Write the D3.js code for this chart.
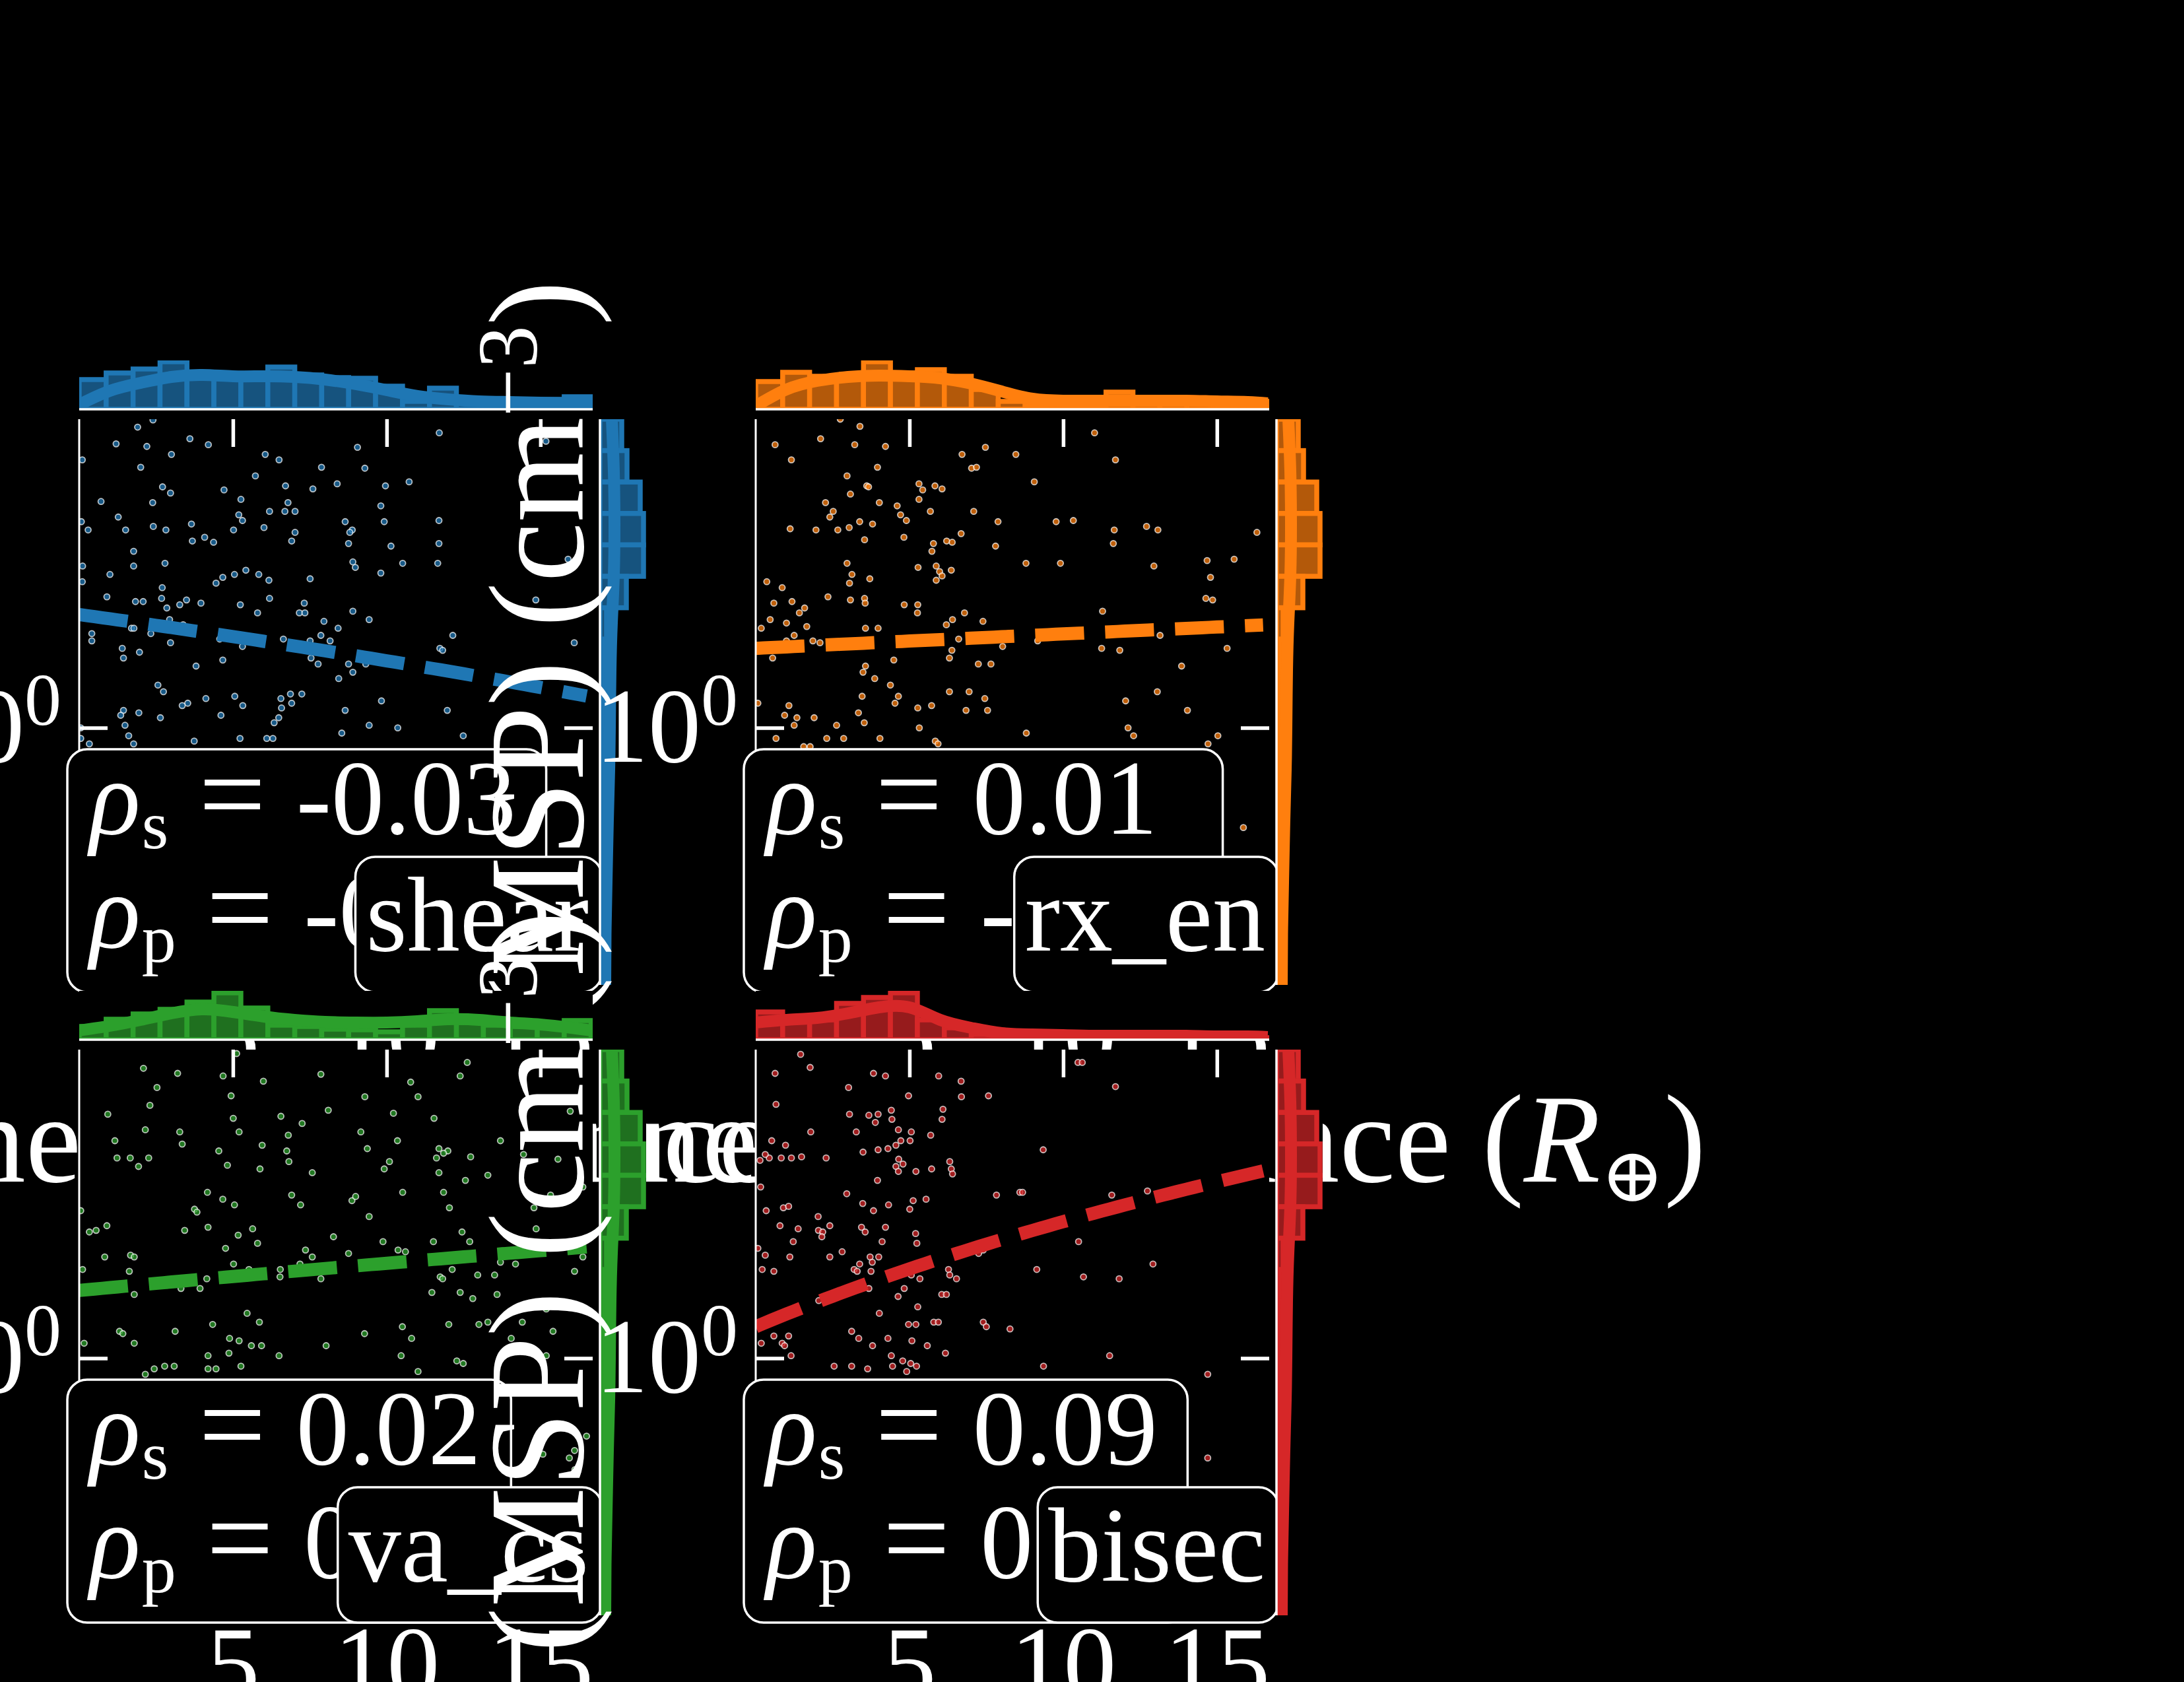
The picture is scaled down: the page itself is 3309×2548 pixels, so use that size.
<!DOCTYPE html>
<html>
<head>
<meta charset="utf-8">
<script src="https://cdnjs.cloudflare.com/ajax/libs/d3/7.8.5/d3.min.js"></script>
<style>
  body { margin: 0; background: #000; }
</style>
</head>
<body>
<div id="chart"></div>
<script>
// panel names, colours and the correlation labels
var panelNames = ["shear", "rx_en", "va_cs", "bisec"];
var panelColors = ["#1f77b4", "#ff7f0e", "#2ca02c", "#d62728"];
var rhoS = ["-0.03", "0.01", "0.02", "0.09"];
var rhoP = ["-0.05", "-0.01", "0.04", "0.08"];

// dashed fit lines: y = a + b * x
var fitA = [1.55, 1.36, 1.30, 1.13];
var fitB = [-0.0254, 0.0078, 0.0144, 0.0566];

var xTicks = [5, 10, 15];
var yTicks = [1];

// scatter points [distance, density]
var shearPts = [[2.4,3.29],[1.9,3.2],[1.2,3.0],[2.2,2.97],[3.0,2.88],[0.1,2.82],[3.6,3.06],[4.2,2.99],[2.0,2.74],[6.05,2.88],[6.5,2.82],[9.05,2.96],[7.88,2.74],[9.29,2.73],[11.71,3.13],[15.18,3.03],[5.73,2.65],[2.71,2.54],[2.97,2.48],[4.71,2.51],[6.71,2.55],[7.6,2.52],[8.39,2.57],[9.96,2.55],[10.73,2.59],[0.71,2.4],[2.39,2.39],[5.26,2.42],[6.79,2.39],[9.81,2.36],[1.27,2.26],[5.19,2.28],[5.31,2.23],[6.19,2.31],[6.69,2.31],[7.02,2.31],[0.07,2.22],[0.29,2.15],[1.51,2.15],[2.41,2.18],[2.82,2.15],[3.65,2.2],[3.68,2.06],[4.08,2.09],[4.37,2.05],[5.02,2.15],[6.01,2.17],[7.02,2.13],[6.91,2.06],[8.65,2.22],[8.88,2.15],[8.8,2.13],[8.76,2.04],[9.92,2.22],[10.14,2.02],[11.7,2.23],[11.7,2.04],[1.77,1.98],[0.11,1.87],[0.1,1.76],[1.77,1.87],[1.0,1.81],[2.79,1.89],[8.9,1.9],[8.98,1.86],[9.81,1.82],[10.52,1.89],[11.66,1.89],[15.9,1.92],[2.7,1.72],[4.45,1.75],[4.67,1.79],[5.05,1.81],[5.42,1.84],[5.84,1.81],[6.17,1.77],[7.51,1.78],[0.9,1.66],[1.83,1.63],[2.08,1.63],[2.68,1.65],[3.49,1.64],[3.27,1.61],[2.85,1.59],[3.96,1.62],[5.24,1.61],[6.19,1.65],[5.8,1.56],[7.32,1.62],[7.16,1.56],[7.34,1.56],[8.9,1.57],[14.85,1.64],[2.94,1.52],[7.96,1.51],[9.43,1.52],[8.42,1.47],[1.7,1.47],[1.78,1.47],[3.38,1.49],[2.33,1.44],[0.41,1.44],[0.41,1.4],[2.97,1.39],[4.57,1.41],[5.31,1.37],[6.64,1.41],[7.86,1.43],[8.16,1.4],[7.51,1.4],[12.15,1.43],[16.1,1.39],[1.4,1.36],[1.96,1.34],[1.44,1.31],[4.67,1.3],[3.8,1.27],[7.54,1.31],[7.77,1.28],[8.76,1.28],[8.9,1.24],[9.32,1.28],[8.44,1.21],[11.73,1.36],[11.82,1.35],[2.56,1.18],[2.74,1.15],[4.12,1.12],[5.06,1.13],[6.56,1.12],[6.87,1.14],[7.24,1.14],[6.91,1.1],[5.32,1.09],[3.53,1.1],[3.35,1.09],[9.83,1.11],[1.44,1.07],[1.35,1.05],[1.94,1.06],[2.64,1.04],[4.61,1.05],[6.58,1.08],[6.49,1.04],[6.34,1.02],[8.65,1.07],[11.97,1.07],[1.49,1.01],[1.61,0.97],[1.77,0.94],[3.74,0.95],[5.23,0.96],[6.1,0.96],[6.3,0.96],[8.54,0.98],[9.43,1.01],[10.36,1.0],[12.49,0.97],[0.05,1.0],[0.33,0.94],[0.05,0.96]];

var rxEnPts = [[2.75,3.3],[3.39,3.21],[0.63,2.99],[2.11,3.06],[3.22,2.99],[4.22,2.97],[1.16,2.82],[3.96,2.74],[6.71,2.88],[7.47,2.96],[8.46,2.88],[7.02,2.73],[7.18,2.74],[11.02,3.13],[11.7,2.82],[9.06,2.59],[2.97,2.65],[3.61,2.55],[3.67,2.54],[5.31,2.57],[5.43,2.51],[5.83,2.55],[6.06,2.52],[3.08,2.47],[2.27,2.39],[2.52,2.31],[2.41,2.26],[4.02,2.39],[4.6,2.36],[4.71,2.28],[4.9,2.23],[5.31,2.42],[5.68,2.31],[7.09,2.31],[1.12,2.16],[1.96,2.15],[2.67,2.15],[3.04,2.17],[3.38,2.22],[3.8,2.2],[3.54,2.07],[4.82,2.09],[6.68,2.12],[7.88,2.22],[7.8,2.02],[5.78,2.04],[6.21,2.06],[6.39,2.05],[5.73,1.98],[9.77,2.22],[10.33,2.23],[11.66,2.15],[11.63,2.04],[12.71,2.18],[13.08,2.15],[16.3,2.13],[2.97,1.89],[3.13,1.81],[3.05,1.75],[3.71,1.78],[5.28,1.86],[5.87,1.87],[5.98,1.83],[6.06,1.8],[5.87,1.77],[6.36,1.84],[8.79,1.89],[9.91,1.89],[12.95,1.87],[14.68,1.91],[15.56,1.92],[14.79,1.79],[0.36,1.76],[0.86,1.72],[0.59,1.62],[1.18,1.63],[1.59,1.59],[1.42,1.56],[2.35,1.66],[3.08,1.64],[3.54,1.65],[3.56,1.62],[4.83,1.61],[5.27,1.61],[5.26,1.56],[6.79,1.56],[7.39,1.51],[6.4,1.52],[6.2,1.49],[0.47,1.52],[1.0,1.5],[0.18,1.47],[1.66,1.48],[1.25,1.43],[3.57,1.47],[3.98,1.47],[6.6,1.41],[6.94,1.43],[1.86,1.4],[2.09,1.39],[1.0,1.4],[11.28,1.57],[14.64,1.65],[14.86,1.64],[9.17,1.4],[8.03,1.37],[11.25,1.36],[11.84,1.35],[13.15,1.43],[15.33,1.36],[0.55,1.31],[4.49,1.3],[6.3,1.31],[6.38,1.35],[3.57,1.27],[3.49,1.24],[7.24,1.28],[7.65,1.28],[3.87,1.21],[4.38,1.18],[13.85,1.27],[3.46,1.13],[4.64,1.13],[4.53,1.1],[6.3,1.15],[6.94,1.15],[7.45,1.12],[13.06,1.15],[12.03,1.11],[0.07,1.1],[1.08,1.09],[0.94,1.05],[1.34,1.04],[1.9,1.04],[2.63,1.01],[3.34,1.06],[3.53,1.02],[5.27,1.08],[5.72,1.09],[6.84,1.07],[7.54,1.07],[14.04,1.07],[1.25,1.01],[5.32,1.0],[8.8,0.98],[12.11,1.0],[12.29,0.97],[0.66,0.96],[2.31,0.96],[2.86,0.96],[4.04,0.96],[5.84,0.95],[5.93,0.94],[14.71,0.94],[15.03,0.97],[1.56,0.93],[1.77,0.93],[15.86,0.68]];

var vaCsPts = [[2.09,3.07],[3.2,3.01],[2.53,2.85],[2.3,2.66],[0.93,2.57],[2.15,2.42],[1.16,2.32],[1.23,2.17],[1.66,2.17],[1.93,2.1],[2.26,2.17],[3.27,2.4],[3.35,2.29],[4.68,2.98],[4.94,2.76],[5.99,2.92],[5.12,3.25],[7.86,3.0],[5.01,2.53],[5.2,2.4],[6.56,2.55],[7.25,2.48],[6.8,2.37],[8.1,2.61],[9.29,2.75],[10.78,2.91],[11.02,2.75],[10.22,2.58],[9.16,2.4],[9.37,2.25],[10.35,2.32],[11.54,2.53],[12.39,2.98],[12.62,3.14],[13.7,2.32],[12.73,2.18],[11.7,2.25],[11.99,2.23],[11.85,2.21],[11.62,2.17],[10.09,2.14],[9.92,2.08],[4.54,2.23],[4.82,2.11],[5.88,2.08],[5.95,2.28],[6.75,2.23],[6.82,2.14],[7.58,2.05],[11.7,2.05],[12.56,1.99],[13.29,2.03],[14.45,2.2],[15.57,2.16],[15.97,2.6],[16.38,1.94],[4.17,1.9],[4.67,1.85],[5.05,1.81],[6.91,1.88],[7.2,1.81],[8.87,1.84],[8.99,1.87],[10.52,1.9],[11.85,1.9],[12.04,1.79],[15.33,1.88],[0.05,1.77],[0.33,1.63],[0.55,1.64],[0.9,1.67],[3.43,1.64],[3.75,1.78],[3.83,1.76],[4.19,1.66],[4.76,1.53],[5.17,1.61],[5.64,1.65],[5.8,1.56],[7.36,1.52],[7.58,1.48],[8.27,1.6],[8.76,1.5],[9.43,1.73],[9.88,1.57],[10.37,1.52],[10.61,1.51],[11.52,1.57],[12.45,1.63],[12.7,1.57],[14.86,1.65],[14.79,1.79],[0.83,1.48],[0.11,1.41],[1.63,1.4],[1.67,1.49],[1.79,1.48],[1.79,1.28],[3.31,1.31],[3.93,1.31],[4.15,1.36],[5.02,1.44],[5.52,1.41],[6.54,1.41],[6.53,1.37],[7.18,1.44],[7.86,1.36],[11.77,1.46],[11.74,1.37],[11.82,1.36],[12.13,1.41],[12.96,1.38],[13.51,1.38],[13.7,1.45],[14.19,1.44],[16.11,1.4],[16.38,1.48],[11.47,1.29],[12.39,1.29],[12.8,1.26],[13.59,1.28],[15.19,1.21],[5.46,1.19],[5.86,1.15],[4.34,1.14],[1.31,1.11],[1.42,1.1],[0.16,1.06],[1.79,1.06],[3.12,1.11],[4.89,1.08],[5.2,1.07],[5.6,1.05],[5.93,1.05],[4.19,1.01],[4.87,1.02],[6.5,1.01],[8.03,1.05],[9.28,1.1],[10.51,1.13],[10.81,1.08],[12.02,1.14],[13.0,1.14],[13.29,1.15],[14.05,1.08],[15.41,1.11],[14.41,1.15],[10.47,1.01],[12.28,0.99],[12.49,0.98],[15.19,1.01],[2.44,0.96],[2.78,0.97],[3.09,0.97],[4.19,0.96],[4.45,0.96],[5.26,0.97],[11.02,0.95],[2.15,0.94],[16.5,0.74],[15.08,0.69],[15.94,0.68],[16.12,0.65],[16.11,0.7]];

var bisecPts = [[1.46,3.24],[1.77,3.08],[0.63,3.01],[0.66,2.67],[3.83,3.01],[4.22,2.98],[3.02,2.85],[4.97,2.76],[5.95,2.98],[6.68,2.92],[6.69,2.75],[7.57,2.76],[11.7,2.86],[10.48,3.14],[10.62,3.14],[3.05,2.57],[3.68,2.56],[3.98,2.57],[3.89,2.49],[4.41,2.61],[4.43,2.52],[6.09,2.62],[6.06,2.52],[1.79,2.4],[3.27,2.4],[4.64,2.42],[5.06,2.4],[5.02,2.32],[4.72,2.32],[5.69,2.37],[0.52,2.32],[0.97,2.28],[0.83,2.17],[1.16,2.17],[1.49,2.18],[0.44,2.17],[0.31,2.2],[0.14,2.15],[2.29,2.17],[3.49,2.22],[3.98,2.24],[4.3,2.25],[4.56,2.28],[4.65,2.16],[4.56,2.1],[4.79,2.12],[4.64,2.06],[5.21,2.06],[5.72,2.08],[6.31,2.14],[6.36,2.08],[6.4,2.04],[9.35,2.24],[0.16,1.94],[3.96,1.99],[2.96,1.89],[3.48,1.82],[3.83,1.77],[4.32,1.81],[5.12,1.84],[5.01,1.78],[5.54,1.85],[7.83,1.88],[8.59,1.9],[8.68,1.9],[12.74,1.91],[11.58,1.88],[0.34,1.77],[0.9,1.79],[1.07,1.8],[0.79,1.67],[1.38,1.65],[2.03,1.73],[2.04,1.64],[2.18,1.63],[2.41,1.67],[2.15,1.6],[3.44,1.66],[3.56,1.63],[4.22,1.66],[4.11,1.57],[5.2,1.62],[5.24,1.56],[8.7,1.63],[10.5,1.57],[7.4,1.52],[7.25,1.5],[7.31,1.53],[1.22,1.57],[0.07,1.53],[0.31,1.49],[1.11,1.48],[2.41,1.48],[2.81,1.51],[3.38,1.44],[3.72,1.48],[4.0,1.48],[3.79,1.45],[3.2,1.41],[3.3,1.4],[3.75,1.4],[0.21,1.41],[0.59,1.4],[5.34,1.36],[5.06,1.38],[5.57,1.44],[6.27,1.41],[6.31,1.38],[6.53,1.36],[9.14,1.41],[10.66,1.37],[11.82,1.36],[12.92,1.44],[3.68,1.31],[4.83,1.31],[4.63,1.27],[5.27,1.22],[6.05,1.28],[6.2,1.28],[2.05,1.25],[4.02,1.19],[4.97,1.14],[5.21,1.14],[5.79,1.15],[5.94,1.15],[7.4,1.15],[7.5,1.13],[8.27,1.12],[0.18,1.06],[0.59,1.09],[0.86,1.06],[0.94,1.05],[1.07,1.09],[1.15,1.01],[3.35,1.08],[4.3,1.08],[3.12,1.11],[3.8,1.05],[5.08,1.07],[5.58,1.05],[6.17,1.02],[4.41,1.01],[4.78,0.99],[5.04,0.98],[5.23,0.97],[2.55,0.97],[3.12,0.97],[3.64,0.96],[4.45,0.97],[4.91,0.95],[9.36,0.97],[11.51,1.01],[14.7,0.94],[14.7,0.68]];

// top marginal histograms (19 bins over the distance range) and kde samples
var topBinCount = 19;
var topHistMax = 16.65;
var shearTopHist = [45,55,61,72,52,50,50,64,52,48,47,35,12,32,15,15,15,15,19];
var rxEnTopHist  = [42,56,50,50,72,55,60,50,30,12,6,5,5,26,12,12,12,12,12];
var vaCsTopHist  = [20,31,39,46,57,71,48,22,20,16,15,12,22,44,26,22,20,20,29];
var bisecTopHist = [42,28,30,55,64,71,30,18,8,5,4,4,3,3,3,3,3,3,3];

var kdeX = [0,1,2,3,4,5,6,7,8,9,10,11,12,13,14,15,16,16.65];
var shearTopKde = [7,28,40,49,52,50,50,49,45,38,29,20,15,12,11,10,9,9];
var rxEnTopKde  = [5,30,43,49,51,50,47,39,27,16,13,13,13,13,13,12,11,9];
var vaCsTopKde  = [14,21,30,40,46,42,35,30,27,26,26,28,31,30,26,23,18,14];
var bisecTopKde = [26,30,33,40,49,49,30,18,10,8,7,6,6,6,6,5,5,4];

// right marginal (same density for every panel), log-spaced bins
var rightHist = [33,41,61,66,66,40,10,6,5,5,5,4,4,4,4,3,3,3];
var rightKdeY = [3.3,2.7,2.2,1.8,1.5,1.25,1.0,0.85,0.7,0.55,0.45,0.37];
var rightKdeV = [18,21,22,21,18,16,15,14,12,10,8.5,8];

var W = 3309, H = 2548;
var axW = 778, axH = 857;
var histH = 74, histW = 70;
var origins = [[120, 635], [1145, 635], [120, 1590], [1145, 1590]];
var serif = "'Liberation Serif', 'DejaVu Serif', serif";

var panels = [
    {pts: shearPts, top: shearTopHist, kde: shearTopKde},
    {pts: rxEnPts,  top: rxEnTopHist,  kde: rxEnTopKde},
    {pts: vaCsPts,  top: vaCsTopHist,  kde: vaCsTopKde},
    {pts: bisecPts, top: bisecTopHist, kde: bisecTopKde}
];

var svg = d3.select("#chart")
    .append("svg")
    .attr("width", W)
    .attr("height", H);
svg.append("rect").attr("width", W).attr("height", H).attr("fill", "#000");
var defs = svg.append("defs");

var x = d3.scaleLinear().domain([0, 16.7]).range([0, axW]);
var y = d3.scaleLog().domain([0.37, 3.3]).range([axH, 0]);
var hy = d3.scaleLinear().domain([0, histH]).range([histH, 0]);
var hx = d3.scaleLinear().domain([0, histW]).range([0, histW]);

function styleAxis(sel)
{
    sel.attr("color", "#fff")
        .attr("font-family", serif)
        .attr("font-size", 160);
    sel.select(".domain").remove();
    sel.selectAll(".tick line").attr("stroke-width", 5.5);
}

function drawScatter(i)
{
    var p = panels[i];
    var color = panelColors[i];
    var ox = origins[i][0], oy = origins[i][1];
    var g = svg.append("g").attr("transform", "translate(" + ox + "," + oy + ")");

    defs.append("clipPath").attr("id", "sc" + i)
        .append("rect").attr("width", axW).attr("height", axH);

    g.append("rect").attr("width", axW).attr("height", axH).attr("fill", "#000");

    var plot = g.append("g").attr("clip-path", "url(#sc" + i + ")");

    //points
    plot.selectAll("circle")
        .data(p.pts)
        .enter()
        .append("circle")
        .attr("cx", function (d) { return x(d[0]); })
        .attr("cy", function (d) { return y(d[1]); })
        .attr("r", 4.5)
        .attr("fill", color)
        .attr("fill-opacity", 0.75)
        .attr("stroke", "#fff")
        .attr("stroke-opacity", 0.7)
        .attr("stroke-width", 1.8);

    //dashed fit
    var fitLine = d3.line()
        .x(function (d) { return x(d); })
        .y(function (d) { return y(fitA[i] + fitB[i] * d); });
    plot.append("path")
        .datum(d3.range(0, 16.75, 0.25))
        .attr("d", fitLine)
        .attr("fill", "none")
        .attr("stroke", color)
        .attr("stroke-width", 20)
        .attr("stroke-dasharray", "74,32");

    //ticks, all pointing in
    g.append("g")
        .call(d3.axisTop(x).tickValues(xTicks).tickSize(-42).tickFormat(""))
        .call(styleAxis);
    g.append("g")
        .attr("transform", "translate(0," + axH + ")")
        .call(d3.axisBottom(x).tickValues(xTicks).tickSize(-42).tickPadding(14))
        .call(styleAxis);
    var yl = g.append("g")
        .call(d3.axisLeft(y).tickValues(yTicks).tickSize(-43).tickPadding(27))
        .call(styleAxis);
    yl.selectAll(".tick text").text(null).each(function () {
        var t = d3.select(this);
        t.append("tspan").text("10");
        t.append("tspan").attr("font-size", 112).attr("dy", -56).text("0");
    });
    g.append("g")
        .attr("transform", "translate(" + axW + ",0)")
        .call(d3.axisRight(y).tickValues(yTicks).tickSize(-43).tickFormat(""))
        .call(styleAxis);

    //left spine
    g.append("line")
        .attr("x1", 0).attr("x2", 0).attr("y1", 0).attr("y2", axH)
        .attr("stroke", "#fff").attr("stroke-width", 3);

    //x label
    var xl = g.append("text")
        .attr("x", axW / 2)
        .attr("y", axH + 298)
        .attr("text-anchor", "middle")
        .attr("font-family", serif)
        .attr("font-size", 190)
        .attr("fill", "#fff");
    xl.append("tspan").text("Reconnection distance (");
    xl.append("tspan").attr("font-style", "italic").text("R");
    xl.append("tspan").attr("font-size", 115).attr("dy", 30).text("\u2295");
    xl.append("tspan").attr("dy", -30).text(")");

    //y label
    var ylab = g.append("text")
        .attr("transform", "translate(-262," + (axH / 2) + ") rotate(-90)")
        .attr("text-anchor", "middle")
        .attr("font-family", serif)
        .attr("font-size", 205)
        .attr("fill", "#fff");
    ylab.append("tspan").attr("font-style", "italic").text("n");
    ylab.append("tspan").text(" (MSP) (cm");
    ylab.append("tspan").attr("font-size", 130).attr("dy", -70).text("\u22123");
    ylab.append("tspan").attr("dy", 70).text(")");

    //correlation box
    var boxX = -18, boxBottom = axH + 11, boxH = 368;
    var ann = g.append("g");
    var annRect = ann.append("rect");
    var lines = [["s", rhoS[i]], ["p", rhoP[i]]];
    var right = 0;
    lines.forEach(function (l, k) {
        var t = ann.append("text")
            .attr("x", boxX + 34)
            .attr("y", boxBottom - boxH + 128 + k * 172)
            .attr("font-family", serif)
            .attr("font-size", 160)
            .attr("fill", "#fff");
        t.append("tspan").attr("font-style", "italic").text("\u03c1");
        t.append("tspan").attr("font-size", 104).attr("dy", 22).attr("dx", 2).text(l[0]);
        t.append("tspan").attr("font-size", 180).attr("dy", -22).attr("dx", 46).text("=");
        t.append("tspan").attr("dx", 46).text(l[1]);
        var bb = t.node().getBBox();
        right = Math.max(right, bb.x + bb.width);
    });
    annRect.attr("x", boxX)
        .attr("y", boxBottom - boxH)
        .attr("width", right + 34 - boxX)
        .attr("height", boxH)
        .attr("rx", 30)
        .attr("fill", "#000")
        .attr("stroke", "#fff")
        .attr("stroke-width", 3.5);

    //model label box
    var labRight = axW + 14, labH = 205;
    var lab = g.append("g");
    var labRect = lab.append("rect");
    var lt = lab.append("text")
        .attr("x", labRight - 20)
        .attr("y", boxBottom - 63)
        .attr("text-anchor", "end")
        .attr("font-family", serif)
        .attr("font-size", 160)
        .attr("fill", "#fff")
        .text(panelNames[i]);
    var len = lt.node().getComputedTextLength();
    labRect.attr("x", labRight - len - 36)
        .attr("y", boxBottom - labH)
        .attr("width", len + 36)
        .attr("height", labH)
        .attr("rx", 30)
        .attr("fill", "#000")
        .attr("stroke", "#fff")
        .attr("stroke-width", 3.5);
}

function drawTopHist(i)
{
    var p = panels[i];
    var color = panelColors[i];
    var ox = origins[i][0], oy = origins[i][1] - 15 - histH;
    var g = svg.append("g").attr("transform", "translate(" + ox + "," + oy + ")");
    defs.append("clipPath").attr("id", "th" + i)
        .append("rect").attr("width", axW).attr("height", histH);
    g.append("rect").attr("width", axW).attr("height", histH).attr("fill", "#000");
    var inner = g.append("g").attr("clip-path", "url(#th" + i + ")");
    var bw = topHistMax / topBinCount;

    //bars
    inner.selectAll("rect.bar")
        .data(p.top)
        .enter()
        .append("rect")
        .attr("class", "bar")
        .attr("x", function (d, k) { return x(k * bw); })
        .attr("width", function (d, k) { return x((k + 1) * bw) - x(k * bw); })
        .attr("y", function (d) { return hy(d); })
        .attr("height", function (d) { return histH - hy(d); })
        .attr("fill", d3.color(color).darker(1))
        .attr("stroke", color)
        .attr("stroke-width", 7.5);

    //kde
    var kdeLine = d3.line()
        .x(function (d, k) { return x(kdeX[k]); })
        .y(function (d) { return hy(d); })
        .curve(d3.curveNatural);
    inner.append("path")
        .datum(p.kde)
        .attr("d", kdeLine)
        .attr("fill", "none")
        .attr("stroke", color)
        .attr("stroke-width", 18);

    //bottom spine
    g.append("line")
        .attr("x1", 0).attr("x2", axW).attr("y1", histH).attr("y2", histH)
        .attr("stroke", "#fff").attr("stroke-width", 3.5);
}

function drawRightHist(i)
{
    var color = panelColors[i];
    var ox = origins[i][0] + axW + 11, oy = origins[i][1];
    var g = svg.append("g").attr("transform", "translate(" + ox + "," + oy + ")");
    defs.append("clipPath").attr("id", "rh" + i)
        .append("rect").attr("width", histW).attr("height", axH);
    g.append("rect").attr("width", histW).attr("height", axH).attr("fill", "#000");
    var inner = g.append("g").attr("clip-path", "url(#rh" + i + ")");

    //log spaced bin edges across the y range
    var d0 = y.domain();
    var n = rightHist.length;
    var edge = function (k) { return d0[1] * Math.pow(d0[0] / d0[1], k / n); };

    inner.selectAll("rect.bar")
        .data(rightHist)
        .enter()
        .append("rect")
        .attr("class", "bar")
        .attr("x", 0)
        .attr("y", function (d, k) { return y(edge(k)); })
        .attr("width", function (d) { return hx(d); })
        .attr("height", function (d, k) { return y(edge(k + 1)) - y(edge(k)); })
        .attr("fill", d3.color(color).darker(1))
        .attr("stroke", color)
        .attr("stroke-width", 7.5);

    var kdeLine = d3.line()
        .x(function (d) { return hx(d); })
        .y(function (d, k) { return y(rightKdeY[k]); })
        .curve(d3.curveNatural);
    inner.append("path")
        .datum(rightKdeV)
        .attr("d", kdeLine)
        .attr("fill", "none")
        .attr("stroke", color)
        .attr("stroke-width", 18);

    //left spine
    g.append("line")
        .attr("x1", 0).attr("x2", 0).attr("y1", 0).attr("y2", axH)
        .attr("stroke", "#fff").attr("stroke-width", 3.5);
}

for (var i = 0; i < panels.length; i++)
{
    drawScatter(i);
    drawTopHist(i);
    drawRightHist(i);
}
</script>
</body>
</html>
